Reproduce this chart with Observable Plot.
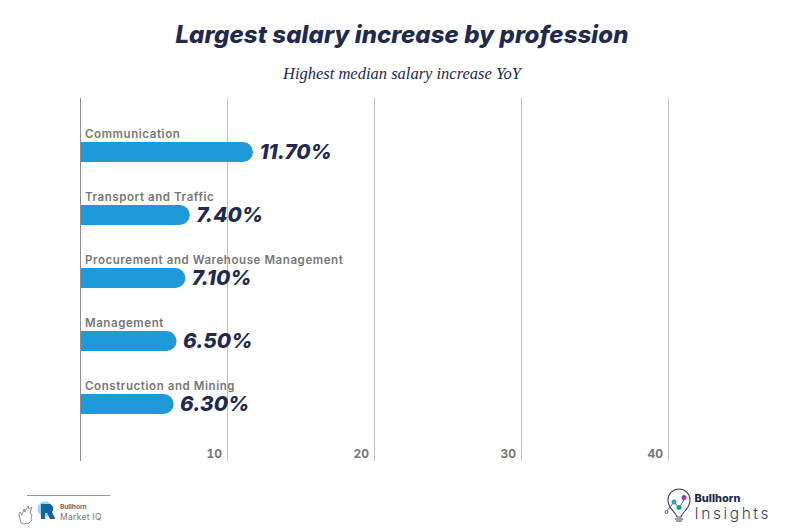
<!DOCTYPE html>
<html><head><meta charset="utf-8">
<script src="https://cdn.jsdelivr.net/npm/d3@7"></script>
<script src="https://cdn.jsdelivr.net/npm/@observablehq/plot@0.6"></script>
<style>
html,body{margin:0;padding:0;background:#fff;width:800px;height:531px;overflow:hidden;font-family:Inter,sans-serif}
.t{position:absolute;white-space:nowrap}
#title{left:2px;width:800px;top:18px;text-align:center;font:italic 800 24px/34px Inter,sans-serif;color:#1f2a4d;letter-spacing:.1px}
#sub{left:2px;width:800px;top:64px;text-align:center;font:italic 400 16.5px/20px "Liberation Serif",serif;color:#1f2a4d}
#chart{position:absolute;left:0;top:98px}
#chart g[font-size="11.5"]{letter-spacing:.58px}
#deco{position:absolute;left:0;top:0}
</style></head><body>
<div class="t" id="title">Largest salary increase by profession</div>
<div class="t" id="sub">Highest median salary increase YoY</div>
<div id="chart"></div>
<svg id="deco" width="800" height="531" viewBox="0 0 800 531" style="pointer-events:none">
  <line x1="27" x2="110" y1="495.5" y2="495.5" stroke="#999"/>
  <path d="M21 523l-2-9 1-2 2 3 2-6 1 3 3-6 1 3 3-2-2 6 2 2-1 3 1 2-3 3-5 1z" fill="none" stroke="#888" stroke-width=".9"/>
  <circle cx="45" cy="509" r="7.5" fill="#8fd8f5"/>
  <path d="M41 504h9a5 5 0 0 1 2 8l3 6v1h-5l-3-6h-2v6h-4z" fill="#14659f"/>
  <text x="60" y="509" font-family="Inter" font-weight="700" font-size="6.500" fill="#666">Bullhorn</text>
  <text x="60" y="520" font-family="Inter" font-size="8.500" letter-spacing=".3" fill="#777">Market IQ</text>
  <path d="M677 517c-1-5-9-8-9-17a11 11 0 0 1 22 0c0 9-8 12-9 17zM675 519h8M676 521h6" fill="none" stroke="#3a4460" stroke-width="1.100"/>
  <path d="M666 512l8-10 5 6 5-8" fill="none" stroke="#3a4460" stroke-width=".8"/>
  <circle cx="674" cy="502" r="2.500" fill="#2a9fdc"/><circle cx="679" cy="507.500" r="2.500" fill="#0fa080"/>
  <circle cx="684" cy="497.500" r="2.500" fill="#a0399a"/><circle cx="666.500" cy="512" r="1.500" fill="#fff" stroke="#3a4460" stroke-width=".7"/>
  <text x="694.500" y="501.500" font-family="Inter" font-weight="800" font-size="11" fill="#1f2a4d">Bullhorn</text>
  <text x="694.500" y="518.500" font-family="Inter" font-weight="300" font-size="15.500" letter-spacing="2.600" fill="#3a4460">Insights</text>
</svg>
<script>
const professions = ["Communication","Transport and Traffic","Procurement and Warehouse Management","Management","Construction and Mining"];
const increases = [11.7,7.4,7.1,6.5,6.3];
const gridTicks = [10,20,30,40];
const rows = professions.map((profession,i)=>({profession,value:increases[i]}));
const fmt = d => d3.format(".2f")(d)+"%";
const chart = Plot.plot({
  width:800,height:363,marginLeft:0,marginRight:0,marginTop:0,marginBottom:0,
  style:{background:"transparent",overflow:"visible"},
  x:{domain:[0,40],range:[80,668]},
  y:{domain:professions,range:[21.25,338.75],paddingInner:0.685,paddingOuter:0.3425,axis:null},
  marks:[
    Plot.ruleX(gridTicks,{stroke:"#c4c4c4",strokeWidth:1,strokeOpacity:1}),
    Plot.barX(rows,{x:"value",y:"profession",fill:"#1f9ad8",rx2:10,insetRight:-1}),
    Plot.ruleX([0],{stroke:"#8f8f8f",strokeWidth:1,strokeOpacity:1}),
    Plot.axisX({ticks:gridTicks,anchor:"bottom",tickSize:0,tickPadding:-12,dx:-5.5,textAnchor:"end",label:null,
      fontFamily:"Inter",fontWeight:700,fontSize:12,fill:"#777"}),
    Plot.text(rows,{x:0,y:"profession",text:"profession",dx:4.5,dy:-18.5,textAnchor:"start",
      fontFamily:"Inter",fontWeight:600,fontSize:11.5,fill:"#777"}),
    Plot.text(rows,{x:"value",y:"profession",text:d=>fmt(d.value),dx:7,textAnchor:"start",
      fontFamily:"Inter",fontWeight:800,fontStyle:"italic",fontSize:20.7,fill:"#1f2a4d"})
  ]
});
document.getElementById("chart").appendChild(chart);
</script>
</body></html>
